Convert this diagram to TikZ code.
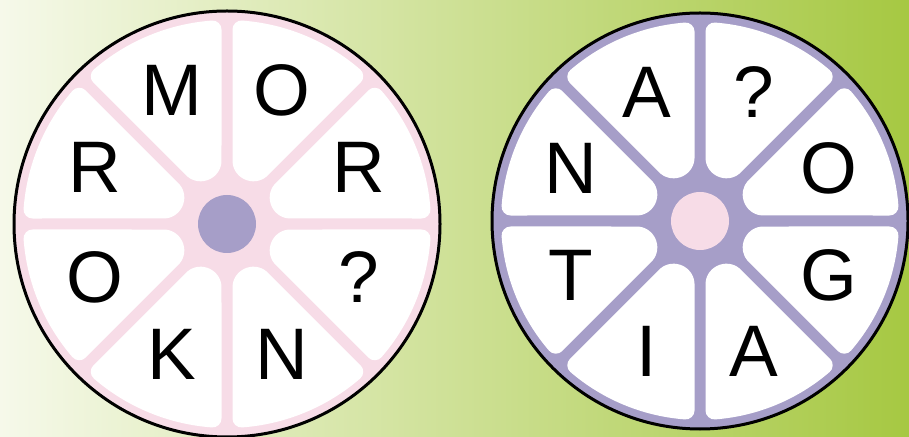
\documentclass[tikz,border=0pt]{standalone}
\usepackage{fontspec}
\setmainfont{Liberation Sans}
\definecolor{spokepink}{HTML}{F7DCE7}
\definecolor{spokeviolet}{HTML}{A69EC8}
\definecolor{bgleft}{HTML}{F6F9EA}
\definecolor{bgright}{HTML}{A6C842}
\tikzset{
  letter/.style={font=\fontsize{73}{73}\selectfont, text height=52pt, text depth=0pt, inner sep=0pt},
  sector/.style={fill=white, draw=white, line width=18pt, line join=round},
  rim/.style={draw=black, line width=3pt},
  hub/.style={circle, minimum size=58pt, inner sep=0pt},
}
\begin{document}
\begin{tikzpicture}[x=1pt, y=1pt]
    \useasboundingbox (0,0) rectangle (909,436);
    % Background
    \shade[left color=bgleft, right color=bgright] (0,0) rectangle (909,436);
    % Left wheel
    \begin{scope}[shift={(227,212)}]
        \filldraw[rim, fill=spokepink] (0,0) circle (213);
        \pgfmathsetmacro\dl{asin(14.5/195)}
        \foreach \b in {22.5,67.5,...,337.5} {
            \pgfmathsetmacro\bl{\b-22.5+\dl}
            \pgfmathsetmacro\br{\b+22.5-\dl}
            \path[sector] (\bl:195) arc[start angle=\bl, end angle=\br, radius=195]
                [rounded corners=7pt] -- (\b+7.9:57.55) -- (\b-7.9:57.55) [sharp corners] -- cycle;
        }
        \node[hub, fill=spokeviolet] (hubL) at (0,0) {};
        \foreach \ang/\ch [count=\i] in {112.5/M, 67.5/O, 157.5/R, 22.5/R, 202.5/O, 337.5/?, 247.5/K, 292.5/N}
            \node[letter, yshift=2.5pt] (L\i) at (\ang:143) {\ch};
    \end{scope}
    % Right wheel
    \begin{scope}[shift={(700,215)}]
        \filldraw[rim, fill=spokeviolet] (0,0) circle (208);
        \pgfmathsetmacro\dl{asin(14.5/190)}
        \foreach \b in {22.5,67.5,...,337.5} {
            \pgfmathsetmacro\bl{\b-22.5+\dl}
            \pgfmathsetmacro\br{\b+22.5-\dl}
            \path[sector] (\bl:190) arc[start angle=\bl, end angle=\br, radius=190]
                [rounded corners=7pt] -- (\b+7.9:57.55) -- (\b-7.9:57.55) [sharp corners] -- cycle;
        }
        \node[hub, fill=spokepink] (hubR) at (0,0) {};
        \foreach \ang/\ch [count=\i] in {112.5/A, 67.5/?, 157.5/N, 22.5/O, 202.5/T, 337.5/G, 247.5/I, 292.5/A}
            \node[letter] (R\i) at (\ang:140) {\ch};
    \end{scope}
\end{tikzpicture}
\end{document}
